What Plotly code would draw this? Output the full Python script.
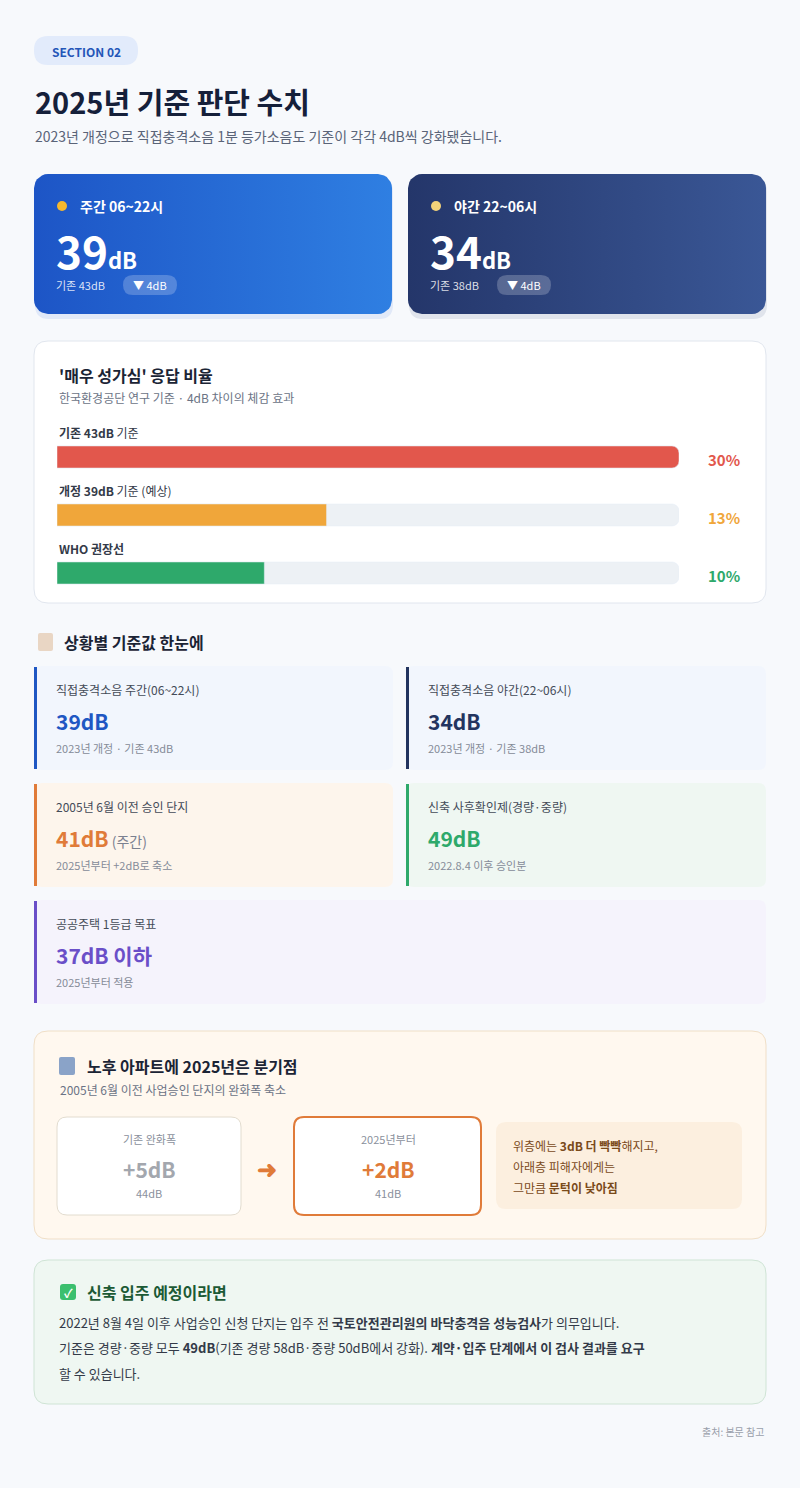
import plotly.graph_objects as go
import numpy as np

W, H = 800, 1488
FONT = "Noto Sans CJK KR"

bar_labels = ["<b>기존 43dB</b> 기준", "<b>개정 39dB</b> 기준 (예상)", "<b>WHO 권장선</b>"]
bar_values = [30, 13, 10]
bar_colors = ["#e2574c", "#f0a63a", "#2ea96b"]
bar_max = 30

tiles = [
    ("직접충격소음 주간(06~22시)", "39dB", "", "2023년 개정 · 기존 43dB", "#1f57c3", "#f2f6fd"),
    ("직접충격소음 야간(22~06시)", "34dB", "", "2023년 개정 · 기존 38dB", "#23345f", "#f2f6fd"),
    ("2005년 6월 이전 승인 단지", "41dB", " (주간)", "2025년부터 +2dB로 축소", "#e07b39", "#fdf5ec"),
    ("신축 사후확인제(경량·중량)", "49dB", "", "2022.8.4 이후 승인분", "#2ea96b", "#eff7f2"),
    ("공공주택 1등급 목표", "37dB 이하", "", "2025년부터 적용", "#6a4fc8", "#f5f3fc"),
]

fig = go.Figure()
shapes, ann = [], []

def rr_path(x0, y0, x1, y1, r):
    return (f"M{x0+r},{y0} L{x1-r},{y0} Q{x1},{y0} {x1},{y0+r} L{x1},{y1-r} Q{x1},{y1} {x1-r},{y1} "
            f"L{x0+r},{y1} Q{x0},{y1} {x0},{y1-r} L{x0},{y0+r} Q{x0},{y0} {x0+r},{y0} Z")

def rect(x0, y0, x1, y1, r, fill, line=None, lw=1, layer="below"):
    shapes.append(dict(type="path", path=rr_path(x0, y0, x1, y1, r), xref="x", yref="y",
                       fillcolor=fill, line=dict(color=line or "rgba(0,0,0,0)", width=lw if line else 0), layer=layer))

def text(x, y, s, size=13, color="#333", anchor="left", bold=False):
    if bold:
        s = f"<b>{s}</b>"
    ann.append(dict(x=x, y=y, xref="x", yref="y", text=s, showarrow=False, xanchor=anchor, yanchor="middle",
                    font=dict(family=FONT, size=size, color=color)))

def rr_points(x0, y0, x1, y1, r, n=8):
    pts = []
    for cx, cy, a0 in [(x1-r, y0+r, -90), (x1-r, y1-r, 0), (x0+r, y1-r, 90), (x0+r, y0+r, 180)]:
        for a in np.linspace(a0, a0+90, n):
            pts.append((cx + r*np.cos(np.radians(a)), cy + r*np.sin(np.radians(a))))
    pts.append(pts[0])
    return [p[0] for p in pts], [p[1] for p in pts]

rect(0, 0, W, H, 0, "#f7f9fc")

rect(34, 36, 138, 65, 14, "#e2ebfb")
text(86, 51, "SECTION 02", 12, "#2456b8", "center", True)
text(33, 101, "2025년 기준 판단 수치", 29, "#15203a", bold=True)
text(33, 136, "2023년 개정으로 직접충격소음 1분 등가소음도 기준이 각각 4dB씩 강화됐습니다.", 14, "#5a6478")

for (x0, x1, c1, c2, sh, icon, lab, val, old) in [
    (34, 392, "#1d55c6", "#2f7fe2", "rgba(40,100,220,0.10)", "sun", "주간 06~22시", "39", "기존 43dB"),
    (408, 766, "#24366a", "#3a5796", "rgba(30,50,100,0.10)", "moon", "야간 22~06시", "34", "기존 38dB")]:
    rect(x0 + 1, 178, x1 + 1, 319, 14, sh)
    xs, ys = rr_points(x0, 174, x1, 314, 14)
    fig.add_trace(go.Scatter(x=xs, y=ys, fill="toself", mode="lines", line=dict(width=0),
                             fillgradient=dict(type="horizontal", colorscale=[[0, c1], [1, c2]]),
                             hoverinfo="skip", showlegend=False))
    shapes.append(dict(type="circle", x0=x0+23, x1=x0+33, y0=201, y1=211, xref="x", yref="y",
                       fillcolor="#f5b82e" if icon == "sun" else "#f3d27a", line=dict(width=0)))
    text(x0 + 44, 206, lab, 14, "white", bold=True)
    text(x0 + 20, 250, f"<b>{val}</b><b><span style='font-size:22px'>dB</span></b>", 44, "white")
    text(x0 + 20, 285, old, 11, "rgba(255,255,255,0.85)")
    rect(x0 + 89, 275, x0 + 143, 295, 10, "rgba(255,255,255,0.22)", layer="above")
    text(x0 + 116, 285, "▼ 4dB", 11, "white", "center")

rect(34, 341, 766, 603, 14, "white", "#e1e6ee")
text(57, 375, "'매우 성가심' 응답 비율", 16, "#1b2435", bold=True)
text(57, 397, "한국환경공단 연구 기준 · 4dB 차이의 체감 효과", 12, "#6b7385")
bar_y = [457, 515, 573]
for i, lab in enumerate(bar_labels):
    text(57, bar_y[i] - 25, lab, 12, "#333a48")
    text(742, bar_y[i] + 2, f"{bar_values[i]}%", 15, bar_colors[i], "right", True)
fig.add_trace(go.Bar(x=[bar_max]*3, y=bar_y, orientation="h", width=22, marker=dict(color="#edf1f5", cornerradius=7),
                     xaxis="x2", yaxis="y2", hoverinfo="skip", showlegend=False))
fig.add_trace(go.Bar(x=bar_values, y=bar_y, orientation="h", width=22, marker=dict(color=bar_colors, cornerradius=7),
                     xaxis="x2", yaxis="y2", hoverinfo="skip", showlegend=False))

text(62, 642, "상황별 기준값 한눈에", 16, "#1b2435", bold=True)
rect(38, 633, 53, 651, 2, "#e9d6c4")
pos = [(34, 393, 666, 770), (406, 766, 666, 770), (34, 393, 783, 887), (406, 766, 783, 887), (34, 766, 900, 1004)]
for (lab, val, extra, sub, col, bg), (x0, x1, y0, y1) in zip(tiles, pos):
    rect(x0, y0, x1, y1, 8, bg)
    shapes.append(dict(type="rect", x0=x0, x1=x0+3, y0=y0+1, y1=y1-1, xref="x", yref="y",
                       fillcolor=col, line=dict(width=0), layer="below"))
    text(x0 + 20, y0 + 23, lab, 12, "#444b58")
    text(x0 + 20, y0 + 55, f"<b>{val}</b><span style='font-size:14px;color:#7a8090'>{extra}</span>", 21, col)
    text(x0 + 20, y0 + 82, sub, 11, "#858b98")

rect(34, 1031, 766, 1239, 14, "#fff8ef", "#f0dfc7")
rect(59, 1057, 75, 1075, 2, "#8aa3c8")
text(85, 1066, "노후 아파트에 <b>2025년</b>은 분기점", 16, "#1b2435", bold=True)
text(58, 1089, "2005년 6월 이전 사업승인 단지의 완화폭 축소", 12, "#6b7385")
rect(57, 1117, 241, 1215, 10, "white", "#e2dccf")
text(149, 1139, "기존 완화폭", 11, "#8a909c", "center")
text(149, 1169, "+5dB", 21, "#a3a7ae", "center", True)
text(149, 1193, "44dB", 11, "#8a909c", "center")
text(267, 1167, "➜", 24, "#e07b39", "center", True)
rect(294, 1117, 481, 1215, 10, "white", "#e07b39", 2)
text(388, 1139, "2025년부터", 11, "#8a909c", "center")
text(388, 1169, "+2dB", 21, "#e07b39", "center", True)
text(388, 1193, "41dB", 11, "#8a909c", "center")
rect(496, 1122, 742, 1209, 10, "#fcefdf")
text(511, 1145, "위층에는 <b>3dB 더 빡빡</b>해지고,", 12, "#7a4a1a")
text(511, 1166, "아래층 피해자에게는", 12, "#7a4a1a")
text(511, 1187, "그만큼 <b>문턱이 낮아짐</b>", 12, "#7a4a1a")

rect(34, 1260, 766, 1404, 14, "#eff7f2", "#cfe4d5")
rect(60, 1284, 76, 1300, 3, "#3bbf6e", layer="above")
text(68, 1292, "✓", 12, "white", "center", True)
text(85, 1292, "신축 입주 예정이라면", 16, "#1c5a35", bold=True)
text(57, 1322, "2022년 8월 4일 이후 사업승인 신청 단지는 입주 전 <b>국토안전관리원의 바닥충격음 성능검사</b>가 의무입니다.", 13, "#333a48")
text(57, 1347, "기준은 경량·중량 모두 <b>49dB</b>(기존 경량 58dB·중량 50dB에서 강화). <b>계약·입주 단계에서 이 검사 결과를 요구</b>", 13, "#333a48")
text(57, 1373, "할 수 있습니다.", 13, "#333a48")
text(766, 1431, "출처: 본문 참고", 10, "#9aa0ab", "right")

fig.update_layout(
    width=W, height=H, margin=dict(l=0, r=0, t=0, b=0), paper_bgcolor="#f7f9fc", plot_bgcolor="rgba(0,0,0,0)",
    xaxis=dict(range=[0, W], visible=False, domain=[0, 1], fixedrange=True),
    yaxis=dict(range=[H, 0], visible=False, domain=[0, 1], fixedrange=True),
    xaxis2=dict(range=[0, bar_max], visible=False, domain=[57/W, 679/W], anchor="y2"),
    yaxis2=dict(range=[H, 0], visible=False, domain=[0, 1], anchor="x2", overlaying="y"),
    barmode="overlay", shapes=shapes, annotations=ann, font=dict(family=FONT),
)
fig.write_html("out.html", config={"displayModeBar": False},
               post_script="document.body.style.margin='0';document.body.style.background='#f7f9fc';")
